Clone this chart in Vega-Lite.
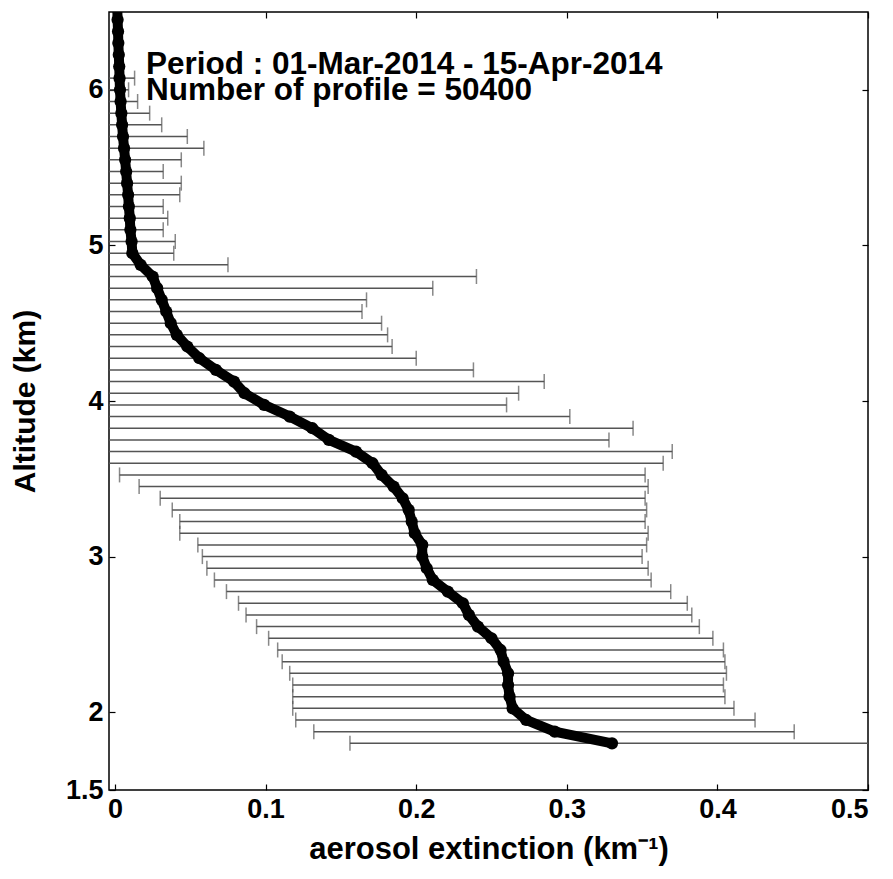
{
  "$schema": "https://vega.github.io/schema/vega-lite/v6.json",
  "width": 759,
  "height": 778,
  "autosize": {"type": "none"},
  "padding": {"left": 109, "top": 12, "right": 25, "bottom": 89},
  "background": "white",
  "config": {
    "view": {"stroke": "black", "strokeWidth": 1.5},
    "axis": {
      "grid": false,
      "domain": false,
      "tickColor": "black",
      "tickWidth": 1.2,
      "tickSize": -6,
      "labelFont": "Liberation Sans",
      "labelFontWeight": "bold",
      "labelFontSize": 27,
      "labelColor": "black",
      "labelExpr": "'' + datum.value",
      "titleFont": "Liberation Sans",
      "titleFontWeight": "bold",
      "titleFontSize": 30,
      "titleColor": "black"
    }
  },
  "datasets": {
    "bars": [
      {"alt": 1.8, "lo": 0.156, "hi": 0.504},
      {"alt": 1.875, "lo": 0.132, "hi": 0.451},
      {"alt": 1.95, "lo": 0.12, "hi": 0.425},
      {"alt": 2.025, "lo": 0.118, "hi": 0.411},
      {"alt": 2.1, "lo": 0.118, "hi": 0.405},
      {"alt": 2.175, "lo": 0.118, "hi": 0.404},
      {"alt": 2.25, "lo": 0.116, "hi": 0.406},
      {"alt": 2.325, "lo": 0.111, "hi": 0.405},
      {"alt": 2.4, "lo": 0.108, "hi": 0.404},
      {"alt": 2.475, "lo": 0.102, "hi": 0.397},
      {"alt": 2.55, "lo": 0.094, "hi": 0.388},
      {"alt": 2.625, "lo": 0.087, "hi": 0.383},
      {"alt": 2.7, "lo": 0.082, "hi": 0.38},
      {"alt": 2.775, "lo": 0.074, "hi": 0.369},
      {"alt": 2.85, "lo": 0.066, "hi": 0.356},
      {"alt": 2.925, "lo": 0.061, "hi": 0.354},
      {"alt": 3.0, "lo": 0.058, "hi": 0.35},
      {"alt": 3.075, "lo": 0.055, "hi": 0.353},
      {"alt": 3.15, "lo": 0.043, "hi": 0.354},
      {"alt": 3.225, "lo": 0.043, "hi": 0.352},
      {"alt": 3.3, "lo": 0.038, "hi": 0.353},
      {"alt": 3.375, "lo": 0.03, "hi": 0.352},
      {"alt": 3.45, "lo": 0.016, "hi": 0.354},
      {"alt": 3.525, "lo": 0.003, "hi": 0.352},
      {"alt": 3.6, "lo": -0.022, "hi": 0.364},
      {"alt": 3.675, "lo": -0.05, "hi": 0.37},
      {"alt": 3.75, "lo": -0.044, "hi": 0.328},
      {"alt": 3.825, "lo": -0.082, "hi": 0.344},
      {"alt": 3.9, "lo": -0.07, "hi": 0.302},
      {"alt": 3.975, "lo": -0.062, "hi": 0.26},
      {"alt": 4.05, "lo": -0.096, "hi": 0.268},
      {"alt": 4.125, "lo": -0.127, "hi": 0.285},
      {"alt": 4.2, "lo": -0.104, "hi": 0.238},
      {"alt": 4.275, "lo": -0.088, "hi": 0.2},
      {"alt": 4.35, "lo": -0.088, "hi": 0.184},
      {"alt": 4.425, "lo": -0.099, "hi": 0.181},
      {"alt": 4.5, "lo": -0.103, "hi": 0.177},
      {"alt": 4.575, "lo": -0.096, "hi": 0.164},
      {"alt": 4.65, "lo": -0.105, "hi": 0.167},
      {"alt": 4.725, "lo": -0.155, "hi": 0.211},
      {"alt": 4.8, "lo": -0.19, "hi": 0.24},
      {"alt": 4.875, "lo": -0.041, "hi": 0.075},
      {"alt": 4.95, "lo": -0.016, "hi": 0.039},
      {"alt": 5.025, "lo": -0.018, "hi": 0.04},
      {"alt": 5.1, "lo": -0.012, "hi": 0.032},
      {"alt": 5.175, "lo": -0.015, "hi": 0.035},
      {"alt": 5.25, "lo": -0.014, "hi": 0.032},
      {"alt": 5.325, "lo": -0.026, "hi": 0.043},
      {"alt": 5.4, "lo": -0.028, "hi": 0.044},
      {"alt": 5.475, "lo": -0.018, "hi": 0.032},
      {"alt": 5.55, "lo": -0.031, "hi": 0.044},
      {"alt": 5.625, "lo": -0.047, "hi": 0.059},
      {"alt": 5.7, "lo": -0.038, "hi": 0.048},
      {"alt": 5.775, "lo": -0.022, "hi": 0.031},
      {"alt": 5.85, "lo": -0.015, "hi": 0.023},
      {"alt": 5.925, "lo": -0.008, "hi": 0.015},
      {"alt": 6.0, "lo": -0.006, "hi": 0.009},
      {"alt": 6.075, "lo": -0.007, "hi": 0.013}
    ],
    "profile": [
      {"alt": 1.8, "mean": 0.33},
      {"alt": 1.875, "mean": 0.292},
      {"alt": 1.95, "mean": 0.273},
      {"alt": 2.025, "mean": 0.264},
      {"alt": 2.1, "mean": 0.262},
      {"alt": 2.175, "mean": 0.261},
      {"alt": 2.25, "mean": 0.261},
      {"alt": 2.325, "mean": 0.258},
      {"alt": 2.4, "mean": 0.256},
      {"alt": 2.475, "mean": 0.25},
      {"alt": 2.55, "mean": 0.241},
      {"alt": 2.625, "mean": 0.235},
      {"alt": 2.7, "mean": 0.231},
      {"alt": 2.775, "mean": 0.221},
      {"alt": 2.85, "mean": 0.211},
      {"alt": 2.925, "mean": 0.207},
      {"alt": 3.0, "mean": 0.204},
      {"alt": 3.075, "mean": 0.204},
      {"alt": 3.15, "mean": 0.199},
      {"alt": 3.225, "mean": 0.197},
      {"alt": 3.3, "mean": 0.195},
      {"alt": 3.375, "mean": 0.191},
      {"alt": 3.45, "mean": 0.185},
      {"alt": 3.525, "mean": 0.177},
      {"alt": 3.6, "mean": 0.171},
      {"alt": 3.675, "mean": 0.16},
      {"alt": 3.75, "mean": 0.142},
      {"alt": 3.825, "mean": 0.131},
      {"alt": 3.9, "mean": 0.116},
      {"alt": 3.975, "mean": 0.099},
      {"alt": 4.05, "mean": 0.086},
      {"alt": 4.125, "mean": 0.079},
      {"alt": 4.2, "mean": 0.067},
      {"alt": 4.275, "mean": 0.056},
      {"alt": 4.35, "mean": 0.048},
      {"alt": 4.425, "mean": 0.041},
      {"alt": 4.5, "mean": 0.037},
      {"alt": 4.575, "mean": 0.034},
      {"alt": 4.65, "mean": 0.031},
      {"alt": 4.725, "mean": 0.028},
      {"alt": 4.8, "mean": 0.025},
      {"alt": 4.875, "mean": 0.017},
      {"alt": 4.95, "mean": 0.0115},
      {"alt": 5.025, "mean": 0.011},
      {"alt": 5.1, "mean": 0.0102},
      {"alt": 5.175, "mean": 0.0098},
      {"alt": 5.25, "mean": 0.0092},
      {"alt": 5.325, "mean": 0.0087},
      {"alt": 5.4, "mean": 0.008},
      {"alt": 5.475, "mean": 0.0074},
      {"alt": 5.55, "mean": 0.0067},
      {"alt": 5.625, "mean": 0.006},
      {"alt": 5.7, "mean": 0.0053},
      {"alt": 5.775, "mean": 0.0047},
      {"alt": 5.85, "mean": 0.0042},
      {"alt": 5.925, "mean": 0.0037},
      {"alt": 6.0, "mean": 0.0033},
      {"alt": 6.075, "mean": 0.003},
      {"alt": 6.15, "mean": 0.0028},
      {"alt": 6.225, "mean": 0.0025},
      {"alt": 6.3, "mean": 0.0022},
      {"alt": 6.375, "mean": 0.002},
      {"alt": 6.45, "mean": 0.0017},
      {"alt": 6.525, "mean": 0.0015}
    ],
    "note": [{"label": "annotation"}]
  },
  "layer": [
    {
      "data": {"name": "bars"},
      "mark": {"type": "rule", "color": "#555555", "strokeWidth": 1.5, "clip": true},
      "encoding": {
        "x": {
          "field": "lo", "type": "quantitative",
          "scale": {"domain": [-0.004, 0.5], "nice": false, "zero": false},
          "axis": {"orient": "bottom", "values": [0, 0.1, 0.2, 0.3, 0.4, 0.5], "labelPadding": 12, "title": "aerosol extinction (km⁻¹)", "titleFontSize": 31, "titlePadding": 12}
        },
        "x2": {"field": "hi"},
        "y": {
          "field": "alt", "type": "quantitative",
          "scale": {"domain": [1.5, 6.5], "nice": false, "zero": false},
          "axis": {"orient": "left", "values": [1.5, 2, 3, 4, 5, 6], "labelPadding": 12, "title": "Altitude (km)", "titlePadding": 25}
        }
      }
    },
    {
      "data": {"name": "bars"},
      "mark": {"type": "tick", "orient": "vertical", "color": "#555555", "size": 15, "thickness": 1.5, "clip": true},
      "encoding": {
        "x": {"field": "lo", "type": "quantitative", "axis": null},
        "y": {"field": "alt", "type": "quantitative", "axis": null}
      }
    },
    {
      "data": {"name": "bars"},
      "mark": {"type": "tick", "orient": "vertical", "color": "#555555", "size": 15, "thickness": 1.5, "clip": true},
      "encoding": {
        "x": {"field": "hi", "type": "quantitative", "axis": null},
        "y": {"field": "alt", "type": "quantitative", "axis": null}
      }
    },
    {
      "data": {"name": "profile"},
      "mark": {"type": "line", "color": "black", "strokeWidth": 10, "clip": true},
      "encoding": {
        "x": {"field": "mean", "type": "quantitative", "axis": {"orient": "top", "values": [0, 0.1, 0.2, 0.3, 0.4, 0.5], "labels": false, "title": null}},
        "y": {"field": "alt", "type": "quantitative", "axis": {"orient": "right", "values": [1.5, 2, 3, 4, 5, 6], "labels": false, "title": null}},
        "order": {"field": "alt", "type": "quantitative"}
      }
    },
    {
      "data": {"name": "profile"},
      "mark": {"type": "circle", "color": "black", "opacity": 1, "size": 150, "clip": true},
      "encoding": {
        "x": {"field": "mean", "type": "quantitative", "axis": null},
        "y": {"field": "alt", "type": "quantitative", "axis": null}
      }
    },
    {
      "data": {"name": "note"},
      "mark": {"type": "text", "text": ["Period : 01-Mar-2014 - 15-Apr-2014", "Number of profile = 50400"], "font": "Liberation Sans", "fontWeight": "bold", "fontSize": 31.5, "lineHeight": 26, "align": "left", "baseline": "alphabetic", "color": "black"},
      "encoding": {
        "x": {"datum": 0.0206, "type": "quantitative", "axis": null},
        "y": {"datum": 6.1, "type": "quantitative", "axis": null}
      }
    }
  ],
  "resolve": {"axis": {"x": "independent", "y": "independent"}}
}
